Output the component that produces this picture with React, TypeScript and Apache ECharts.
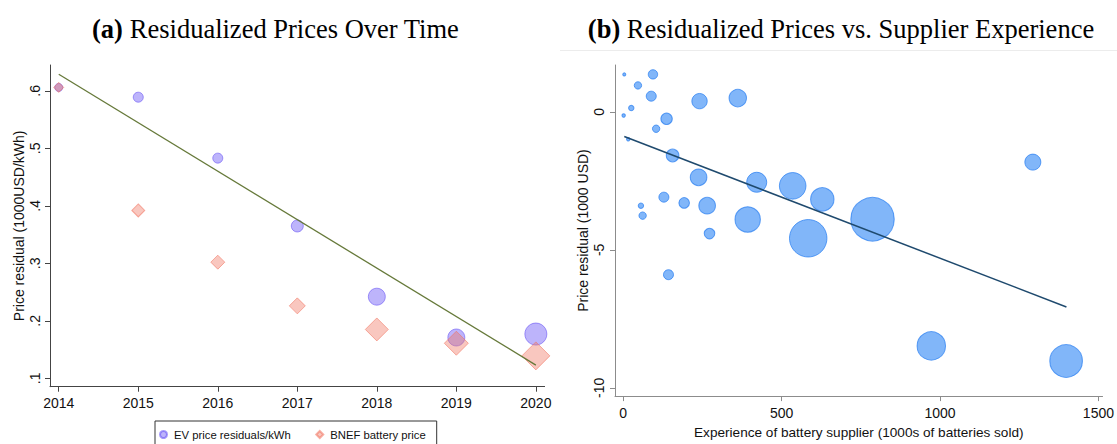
import React, { useEffect, useRef } from 'react';
import * as echarts from 'echarts';

// ---- Panel (a): residualized prices over time ----
const years = [2014, 2015, 2016, 2017, 2018, 2019, 2020];
const evResidual = [0.606, 0.589, 0.483, 0.365, 0.242, 0.171, 0.177];
const bnefPrice = [0.606, 0.392, 0.302, 0.226, 0.185, 0.161, 0.139];
const evWeight = [16, 25, 25, 36, 72, 72, 121];
const bnefWeight = [25, 42, 49, 64, 132, 144, 196];
const fitA = [
  [2014, 0.629],
  [2020, 0.123],
];
const yTicksA = [0.1, 0.2, 0.3, 0.4, 0.5, 0.6];

// ---- Panel (b): residualized prices vs supplier experience ----
const supplierExp = [3.5, 94, 46.6, 88.6, 241, 361.7, 25.6, 1.5, 137, 104, 16, 156, 238, 421.5, 535, 128.5, 192.5, 265, 56, 61.4, 393, 628.5, 787, 584, 272.5, 143, 972.5, 1398, 1293];
const priceResidual = [1.36, 1.36, 0.96, 0.57, 0.39, 0.5, 0.14, -0.13, -0.25, -0.61, -0.99, -1.58, -2.37, -2.55, -2.68, -3.09, -3.3, -3.4, -3.4, -3.76, -3.9, -3.17, -3.89, -4.58, -4.41, -5.9, -8.48, -9.03, -1.82];
const supplierWeight = [2.3, 22, 13.7, 25, 59, 76, 7.3, 2.9, 32.5, 13.7, 2.9, 40, 69, 100, 177, 25, 28, 69, 7.3, 13.7, 161, 137, 471, 350, 28, 25, 202, 266, 64];
const fitB = [
  [3.5, -0.89],
  [1399, -7.07],
];
const xTicksB = [0, 500, 1000, 1500];
const yTicksB = [-10, -5, 0];

const SANS = "'Liberation Sans', Arial, Helvetica, sans-serif";
const SERIF = "'Liberation Serif', 'Times New Roman', serif";

const sizeOf = (v: number[]) => 2 * Math.sqrt(v[2]);

export default function App() {
  const ref = useRef<HTMLDivElement>(null);
  useEffect(() => {
    const chart = echarts.init(ref.current!, null, { renderer: 'svg' });
    const darkAxis = '#444';
    const grayAxis = '#8c8c8c';
    const option: any = {
      animation: false,
      backgroundColor: '#fff',
      graphic: [
        {
          type: 'text',
          x: 275.5,
          y: 29,
          style: {
            text: '{b|(a)} Residualized Prices Over Time',
            textAlign: 'center',
            textVerticalAlign: 'middle',
            font: `26.5px ${SERIF}`,
            fill: '#000',
            rich: { b: { fontWeight: 'bold', fontSize: 26.5, fontFamily: SERIF } },
          },
        },
        {
          type: 'text',
          x: 841,
          y: 29,
          style: {
            text: '{b|(b)} Residualized Prices vs. Supplier Experience',
            textAlign: 'center',
            textVerticalAlign: 'middle',
            font: `26.5px ${SERIF}`,
            fill: '#000',
            rich: { b: { fontWeight: 'bold', fontSize: 26.5, fontFamily: SERIF } },
          },
        },
        {
          type: 'line',
          shape: { x1: 560, y1: 50.5, x2: 1117, y2: 50.5 },
          style: { stroke: '#ececec', lineWidth: 1 },
        },
      ],
      legend: {
        data: ['EV price residuals/kWh', 'BNEF battery price'],
        left: 155,
        top: 421,
        orient: 'horizontal',
        borderColor: '#333',
        borderWidth: 1,
        borderRadius: 0,
        padding: [8, 11, 10, 4],
        itemWidth: 7,
        itemHeight: 7,
        itemGap: 24.5,
        textStyle: { fontSize: 11.3, color: '#111', fontFamily: SANS, padding: [0, 0, 0, 2] },
      },
      grid: [
        { left: 50, top: 65, width: 494.6, height: 321.7 },
        { left: 615, top: 65, width: 488.5, height: 340.7 },
      ],
      xAxis: [
        {
          type: 'value',
          gridIndex: 0,
          min: 2013.89,
          max: 2020.11,
          splitLine: { show: false },
          axisLine: { show: true, onZero: false, lineStyle: { color: darkAxis, width: 1 } },
          axisTick: { show: true, customValues: years, length: 5, lineStyle: { color: darkAxis } },
          axisLabel: { customValues: years, fontSize: 14, color: '#111', margin: 9, fontFamily: SANS, formatter: (v: number) => String(v) },
        },
        {
          type: 'value',
          gridIndex: 1,
          min: -25.8,
          max: 1513,
          splitLine: { show: false },
          axisLine: { show: true, onZero: false, lineStyle: { color: grayAxis, width: 1 } },
          axisTick: { show: true, customValues: xTicksB, length: 5, lineStyle: { color: grayAxis } },
          axisLabel: { customValues: xTicksB, fontSize: 14, color: '#111', margin: 10, fontFamily: SANS, formatter: (v: number) => String(v) },
          name: 'Experience of battery supplier (1000s of batteries sold)',
          nameLocation: 'middle',
          nameGap: 27,
          nameTextStyle: { fontSize: 13.6, color: '#111', fontFamily: SANS },
        },
      ],
      yAxis: [
        {
          type: 'value',
          gridIndex: 0,
          min: 0.0854,
          max: 0.645,
          splitLine: { show: false },
          axisLine: { show: true, onZero: false, lineStyle: { color: darkAxis, width: 1 } },
          axisTick: { show: true, customValues: yTicksA, length: 5, lineStyle: { color: darkAxis } },
          axisLabel: {
            customValues: yTicksA,
            rotate: 90,
            fontSize: 14,
            color: '#111',
            margin: 8,
            fontFamily: SANS,
            formatter: (v: number) => '.' + Math.round(v * 10),
          },
          name: 'Price residual (1000USD/kWh)',
          nameLocation: 'middle',
          nameGap: 24,
          nameTextStyle: { fontSize: 14, color: '#111', fontFamily: SANS },
        },
        {
          type: 'value',
          gridIndex: 1,
          min: -10.3,
          max: 1.7,
          splitLine: { show: false },
          axisLine: { show: true, onZero: false, lineStyle: { color: grayAxis, width: 1 } },
          axisTick: { show: true, customValues: yTicksB, length: 5, lineStyle: { color: grayAxis } },
          axisLabel: { customValues: yTicksB, rotate: 90, fontSize: 14, color: '#111', margin: 9, fontFamily: SANS, formatter: (v: number) => String(v) },
          name: 'Price residual (1000 USD)',
          nameLocation: 'middle',
          nameGap: 25,
          nameTextStyle: { fontSize: 14, color: '#111', fontFamily: SANS },
        },
      ],
      series: [
        {
          name: 'EV price residuals/kWh',
          type: 'scatter',
          xAxisIndex: 0,
          yAxisIndex: 0,
          symbol: 'circle',
          data: years.map((y, i) => [y, evResidual[i], evWeight[i]]),
          symbolSize: sizeOf,
          itemStyle: { color: 'rgba(105, 85, 245, 0.55)', borderColor: 'rgba(105, 85, 245, 0.75)', borderWidth: 1 },
          z: 2,
        },
        {
          name: 'BNEF battery price',
          type: 'scatter',
          xAxisIndex: 0,
          yAxisIndex: 0,
          symbol: 'diamond',
          data: years.map((y, i) => [y, bnefPrice[i], bnefWeight[i]]),
          symbolSize: sizeOf,
          itemStyle: { color: 'rgba(240, 115, 95, 0.5)', borderColor: 'rgba(240, 115, 95, 0.7)', borderWidth: 1 },
          z: 3,
        },
        {
          name: 'fitA',
          type: 'line',
          xAxisIndex: 0,
          yAxisIndex: 0,
          data: fitA,
          symbol: 'none',
          lineStyle: { color: '#66793a', width: 1.3 },
          z: 4,
        },
        {
          name: 'Suppliers',
          type: 'scatter',
          xAxisIndex: 1,
          yAxisIndex: 1,
          symbol: 'circle',
          data: supplierExp.map((x, i) => [x, priceResidual[i], supplierWeight[i]]),
          symbolSize: sizeOf,
          itemStyle: { color: 'rgba(30, 125, 245, 0.7)', borderColor: 'rgba(30, 120, 240, 0.85)', borderWidth: 1 },
          z: 2,
        },
        {
          name: 'fitB',
          type: 'line',
          xAxisIndex: 1,
          yAxisIndex: 1,
          data: fitB,
          symbol: 'none',
          lineStyle: { color: '#1f4a6e', width: 1.5 },
          z: 4,
        },
      ],
    };
    chart.setOption(option);
    return () => chart.dispose();
  }, []);
  return (
    <div
      ref={ref}
      style={{ position: 'fixed', left: 0, top: 0, width: 1117, height: 444, background: '#fff' }}
    />
  );
}
